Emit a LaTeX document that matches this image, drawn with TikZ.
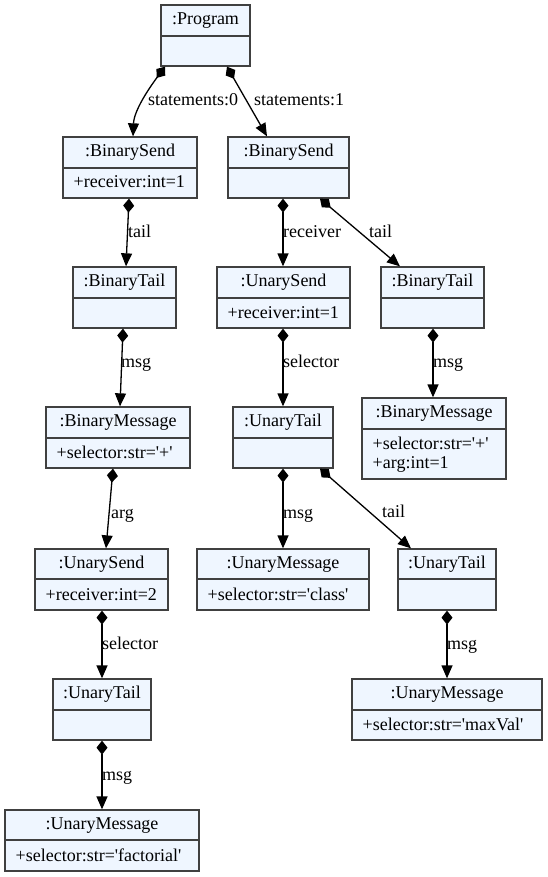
\documentclass[tikz,border=0pt]{standalone}
\usepackage{fontspec}
\setmainfont{Liberation Serif}[Ligatures=TeXOff]
\usetikzlibrary{arrows.meta,fit}
\definecolor{boxfill}{HTML}{EFF6FF}
\definecolor{boxline}{HTML}{404040}
\tikzset{
  umlbox/.style={draw=boxline, fill=boxfill, line width=1.3pt, inner sep=0pt},
  divline/.style={draw=boxline, line width=1.3pt},
  txt/.style={inner sep=0pt, font=\fontsize{18}{22}\selectfont},
  titletext/.style={txt, anchor=base},
  attrtext/.style={txt, anchor=base west},
  elabel/.style={txt, anchor=base west},
  comp/.style={draw=black, line width=1.3pt,
    {Diamond[length=14pt,width=11pt]}-{Triangle[length=13pt,width=11pt]}},
}
% name, left, right, top, divider, bottom, title
\newcommand\umlbox[7]{%
  \node[umlbox, fit={(#2,#4) (#3,#6)}] (#1) {};
  \draw[divline] (#2,#5) -- (#3,#5);
  \node[titletext] (#1-t) at ([yshift=-20.5pt]#1.north) {#7};
}
% name, x, baseline, text
\newcommand\umlattr[4]{\node[attrtext] (#1) at (#2,#3) {#4};}
\begin{document}
\begin{tikzpicture}[x=1pt,y=-1pt]
\useasboundingbox (0,0) rectangle (547,877);
\fill[white] (0,0) rectangle (547,877);

\umlbox{prog}{161}{250}{5}{36}{66}{:Program}
\umlbox{bs1}{63}{197}{137}{168}{198}{:BinarySend}
\umlattr{bs1-a}{73.5}{188}{+receiver:int=1}
\umlbox{bs2}{228}{349}{137}{168}{198}{:BinarySend}
\umlbox{bt1}{73}{176}{267}{298}{328}{:BinaryTail}
\umlbox{us1}{217}{350}{267}{298}{328}{:UnarySend}
\umlattr{us1-a}{227.5}{318}{+receiver:int=1}
\umlbox{bt2}{381}{484}{267}{298}{328}{:BinaryTail}
\umlbox{bm1}{46}{190}{407}{438}{468}{:BinaryMessage}
\umlattr{bm1-a}{56.5}{458}{+selector:str='+'}
\umlbox{ut1}{233}{333}{407}{438}{468}{:UnaryTail}
\umlbox{bm2}{362}{506}{398}{429}{479}{:BinaryMessage}
\umlattr{bm2-a}{372.5}{449}{+selector:str='+'}
\umlattr{bm2-b}{372.5}{468}{+arg:int=1}
\umlbox{us2}{35}{168}{549}{579}{610}{:UnarySend}
\umlattr{us2-a}{45.5}{600}{+receiver:int=2}
\umlbox{um1}{197}{369}{549}{579}{610}{:UnaryMessage}
\umlattr{um1-a}{207.5}{600}{+selector:str='class'}
\umlbox{ut2}{398}{496}{549}{579}{610}{:UnaryTail}
\umlbox{ut3}{53}{151}{679}{710}{740}{:UnaryTail}
\umlbox{um2}{352}{542}{679}{710}{740}{:UnaryMessage}
\umlattr{um2-a}{362.5}{730}{+selector:str='maxVal'}
\umlbox{um3}{5}{199}{810}{840}{871}{:UnaryMessage}
\umlattr{um3-a}{15.5}{861}{+selector:str='factorial'}

% connectors
\draw[comp] ([xshift=-40.5pt]prog.south) .. controls (150,87) and (134,110) .. ([xshift=3pt]bs1.north);
\draw[comp] ([xshift=21.5pt]prog.south) -- ([xshift=-21.5pt]bs2.north);
\draw[comp] ([xshift=-1pt]bs1.south) -- ([xshift=1.5pt]bt1.north);
\draw[comp] ([xshift=-5.5pt]bs2.south) -- ([xshift=-0.5pt]us1.north);
\draw[comp] ([xshift=31.5pt]bs2.south) -- ([xshift=-32.5pt]bt2.north);
\draw[comp] ([xshift=-1.5pt]bt1.south) -- ([xshift=2pt]bm1.north);
\draw[comp] ([xshift=-0.5pt]us1.south) -- (ut1.north);
\draw[comp] ([xshift=0.5pt]bt2.south) -- ([xshift=-1pt]bm2.north);
\draw[comp] ([xshift=-5pt]bm1.south) -- ([xshift=4.5pt]us2.north);
\draw[comp] (ut1.south) -- (um1.north);
\draw[comp] ([xshift=37pt]ut1.south) -- ([xshift=-36pt]ut2.north);
\draw[comp] ([xshift=0.5pt]us2.south) -- (ut3.north);
\draw[comp] (ut2.south) -- (um2.north);
\draw[comp] (ut3.south) -- (um3.north);

% connector labels
\node[elabel] (l1) at (148,106) {statements:0};
\node[elabel] (l2) at (254,106) {statements:1};
\node[elabel] (l3) at (128,237) {tail};
\node[elabel] (l4) at (283,237) {receiver};
\node[elabel] (l5) at (369,237) {tail};
\node[elabel] (l6) at (121,367) {msg};
\node[elabel] (l7) at (283,367) {selector};
\node[elabel] (l8) at (433,367) {msg};
\node[elabel] (l9) at (111,518) {arg};
\node[elabel] (l10) at (283,518) {msg};
\node[elabel] (l11) at (382,517) {tail};
\node[elabel] (l12) at (102,649) {selector};
\node[elabel] (l13) at (447,649) {msg};
\node[elabel] (l14) at (102,780) {msg};
\end{tikzpicture}
\end{document}
